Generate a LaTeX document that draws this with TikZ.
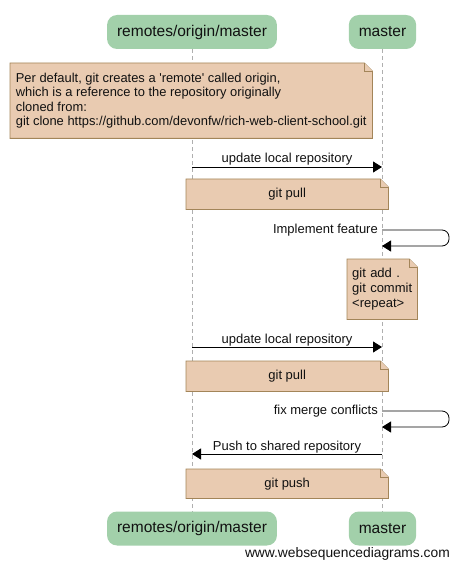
\documentclass[tikz,border=0pt]{standalone}
\usepackage{fontspec}
\setmainfont{Liberation Sans}
\usetikzlibrary{arrows.meta, positioning, calc, backgrounds}
\definecolor{actorCol}{HTML}{A2D0AA}
\definecolor{noteCol}{HTML}{E9CBB1}
\definecolor{noteLine}{HTML}{A38559}
\definecolor{lifeCol}{HTML}{AFAFAF}
\definecolor{textdark}{HTML}{111111}

% note outline with folded corner, drawn behind the note text
\newcommand{\noteshape}[1]{%
  \begin{pgfonlayer}{background}
    \filldraw[notepath] (#1.north west) -- ([xshift=-8pt]#1.north east) -- ([yshift=-8pt]#1.north east) -- (#1.south east) -- (#1.south west) -- cycle;
    \draw[notepath] ([xshift=-8pt]#1.north east) |- ([yshift=-8pt]#1.north east);
  \end{pgfonlayer}}

\begin{document}
\begin{tikzpicture}[
    x=1pt, y=-1pt,
    font=\fontsize{13}{14.7}\selectfont,
    >={Triangle[length=9pt, width=11pt]},
    actor/.style={rounded corners=10pt, fill=actorCol, text=textdark, font=\fontsize{15.5}{18}\selectfont, minimum height=34pt, inner xsep=10pt},
    notebox/.style={text=textdark, inner sep=0pt, anchor=north west},
    notepath/.style={draw=noteLine, fill=noteCol, line width=0.8pt},
    lifeline/.style={lifeCol, dash pattern=on 4pt off 3pt, line width=0.7pt},
    msg/.style={->, line width=0.8pt, black},
    msglabel/.style={text=textdark, anchor=base, yshift=4pt, inner sep=0pt},
    selflabel/.style={text=textdark, anchor=east, inner sep=4pt}
]
\useasboundingbox (0,0) rectangle (459,569);

% --- 1. PARTICIPANTS ---
\node[actor] (remoteTop) at (192,32) {remotes/origin/master};
\node[actor] (masterTop) at (382.5,32) {master};
\node[actor] (remoteBot) at (192,528.5) {remotes/origin/master};
\node[actor] (masterBot) at (382.5,528.5) {master};

\begin{pgfonlayer}{background}
    \draw[lifeline] (remoteTop.south) -- (remoteBot.north);
    \draw[lifeline] (masterTop.south) -- (masterBot.north);
\end{pgfonlayer}

% --- 2. NOTES ---
\node[notebox, minimum width=362pt, minimum height=75pt, inner xsep=4pt, align=left, font=\fontsize{12.9}{14.6}\selectfont] (cloneNote) at (10,63)
    {Per default, git creates a \textquotesingle remote\textquotesingle\ called origin,\\
     which is a reference to the repository originally\\
     cloned from:\\
     git clone https://github.com/devonfw/rich-web-client-school.git};
\noteshape{cloneNote}

\node[notebox, minimum width=202pt, minimum height=30pt] (pullNoteA) at (186,179) {git pull};
\noteshape{pullNoteA}

\node[notebox, minimum height=60pt, text width=60pt, inner xsep=5pt, align=left] (commitNote) at (347,259)
    {git add .\\ git commit\\ <repeat>};
\noteshape{commitNote}

\node[notebox, minimum width=202pt, minimum height=30pt] (pullNoteB) at (186,361) {git pull};
\noteshape{pullNoteB}

\node[notebox, minimum width=202pt, minimum height=29pt] (pushNote) at (186,469) {git push};
\noteshape{pushNote}

% --- 3. MESSAGES ---
\coordinate (updA1) at (192,167);
\coordinate (updB1) at (382,167);
\draw[msg] (updA1) -- (updB1) node[msglabel, midway] {update local repository};

\coordinate (implA) at (382,230);
\coordinate (implB) at (382,246);
\node[selflabel] (implLbl) at (implA) {Implement feature};
\draw[msg, rounded corners=7pt] (implA) -- ++(67,0) -- ++(0,16) -- (implB);

\coordinate (updA2) at (192,347);
\coordinate (updB2) at (382,347);
\draw[msg] (updA2) -- (updB2) node[msglabel, midway] {update local repository};

\coordinate (fixA) at (382,411);
\coordinate (fixB) at (382,427);
\node[selflabel] (fixLbl) at (fixA) {fix merge conflicts};
\draw[msg, rounded corners=7pt] (fixA) -- ++(67,0) -- ++(0,16) -- (fixB);

\coordinate (pushA) at (382,454);
\coordinate (pushB) at (192,454);
\draw[msg] (pushA) -- (pushB) node[msglabel, midway] {Push to shared repository};

% --- 4. FOOTER ---
\node[anchor=east, text=textdark, inner sep=0pt, font=\fontsize{13.8}{16}\selectfont] (footer) at (450,554) {www.websequencediagrams.com};

\end{tikzpicture}
\end{document}
